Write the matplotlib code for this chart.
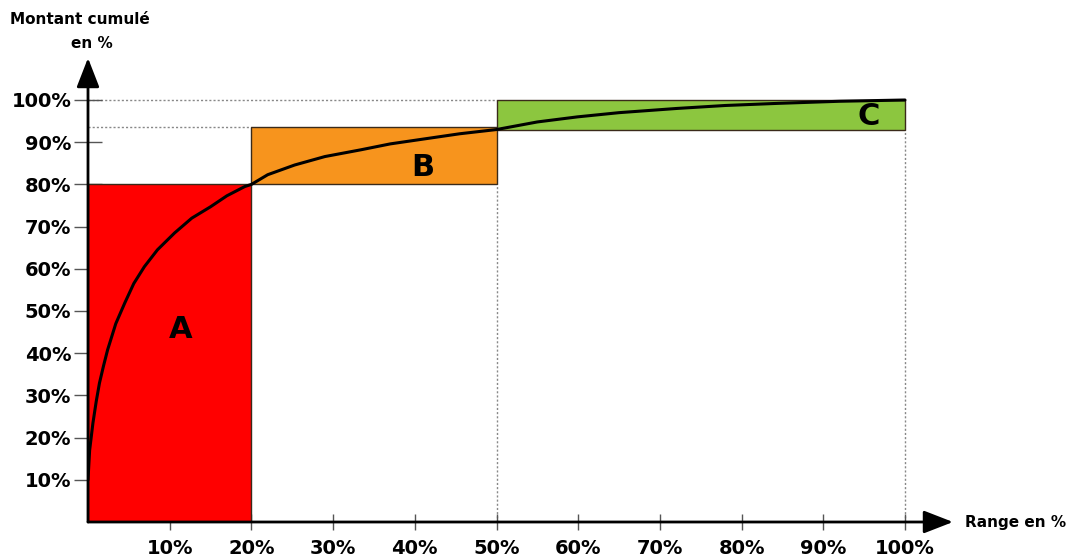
import matplotlib.pyplot as plt
from matplotlib.patches import Rectangle

# Cumulative curve: share of items ranked (%) vs cumulative amount (%)
rank_pct = [0, 0.2, 0.6, 1.0, 1.4, 1.9, 2.4, 3.4, 4.5, 5.6, 6.9, 8.5, 10.6, 12.7, 15, 17, 19.2,
            20, 22, 25.3, 29, 33.4, 37, 41.6, 45.5, 50, 55, 59.9, 65, 72.1, 78, 84.4, 92, 100]
cumul_pct = [10, 17, 23.4, 28.5, 32.9, 37, 40.8, 47, 51.9, 56.5, 60.5, 64.5, 68.5, 72, 74.7, 77.3, 79.5,
             80, 82.3, 84.6, 86.6, 88.2, 89.6, 90.9, 92, 93, 94.8, 96, 97, 98, 98.7, 99.2, 99.7, 100]

# ABC classes
classes = ["A", "B", "C"]
class_x0 = [0, 20, 50]
class_x1 = [20, 50, 100]
class_y0 = [0, 80, 93]
class_y1 = [80, 93.5, 100]
class_colors = ["#ff0000", "#f7941d", "#8cc63f"]
label_pos = [(11.4, 45.5), (41, 83.9), (95.6, 96.2)]

tick_vals = [10, 20, 30, 40, 50, 60, 70, 80, 90, 100]
tick_labels = [f"{v}%" for v in tick_vals]

W, H = 1074, 556
x0_px, x_scale = 88, 8.17      # pixel of 0 % and pixels per percent on x
y0_px, y_scale = 522, 4.22     # pixel row of 0 % and pixels per percent on y
xmax = (953 - x0_px) / x_scale
ymax = (y0_px - 58) / y_scale

fig = plt.figure(figsize=(W / 100, H / 100), dpi=100)
ax = fig.add_axes([x0_px / W, (H - y0_px) / H, (953 - x0_px) / W, (y0_px - 58) / H])
ax.set_xlim(0, xmax)
ax.set_ylim(0, ymax)
for s in ax.spines.values():
    s.set_visible(False)

# Class rectangles
for lab, xa, xb, ya, yb, c in zip(classes, class_x0, class_x1, class_y0, class_y1, class_colors):
    ax.add_patch(Rectangle((xa, ya), xb - xa, yb - ya, facecolor=c,
                           edgecolor="#3a2a1a", lw=1.0, zorder=2))

# Dotted guide lines
dot = dict(ls=(0, (1.5, 1.5)), color="#888888", lw=1, zorder=1)
ax.plot([0, 50], [100, 100], **dot)
ax.plot([0, 20], [93.5, 93.5], **dot)
ax.plot([50, 50], [0, 80], **dot)
ax.plot([100, 100], [0, 93], **dot)

# Cumulative curve
ax.plot(rank_pct, cumul_pct, color="black", lw=2.2, zorder=4,
        solid_capstyle="round", solid_joinstyle="round")

# Class letters
for lab, (lx, ly) in zip(classes, label_pos):
    ax.text(lx, ly, lab, fontsize=22, fontweight="bold", ha="center", va="center",
            color="black", zorder=5)

# Axes with arrowheads
arrow = dict(arrowstyle="-|>,head_length=0.9,head_width=0.35", lw=2, color="black",
             mutation_scale=20, shrinkA=0, shrinkB=0)
ax.annotate("", xy=(xmax, 0), xytext=(0, 0), arrowprops=arrow, annotation_clip=False, zorder=6)
ax.annotate("", xy=(0, ymax), xytext=(0, 0), arrowprops=arrow, annotation_clip=False, zorder=6)

ax.set_xticks(tick_vals)
ax.set_xticklabels(tick_labels, fontsize=14, fontweight="bold")
ax.set_yticks(tick_vals)
ax.set_yticklabels(tick_labels, fontsize=14, fontweight="bold")
ax.tick_params(axis="x", direction="inout", length=12, width=1, color="#555555", pad=6)
ax.tick_params(axis="y", direction="inout", length=20, width=1, color="#555555", pad=2)

fig.text(10 / W, 1 - 20 / H, "Montant cumulé", fontsize=11, fontweight="bold",
         ha="left", va="center")
fig.text(92 / W, 1 - 44 / H, "en %", fontsize=11, fontweight="bold",
         ha="center", va="center")
fig.text(965 / W, 1 - 522 / H, "Range en %", fontsize=11, fontweight="bold",
         ha="left", va="center")

fig.savefig("out.png", dpi=100, facecolor="white")
